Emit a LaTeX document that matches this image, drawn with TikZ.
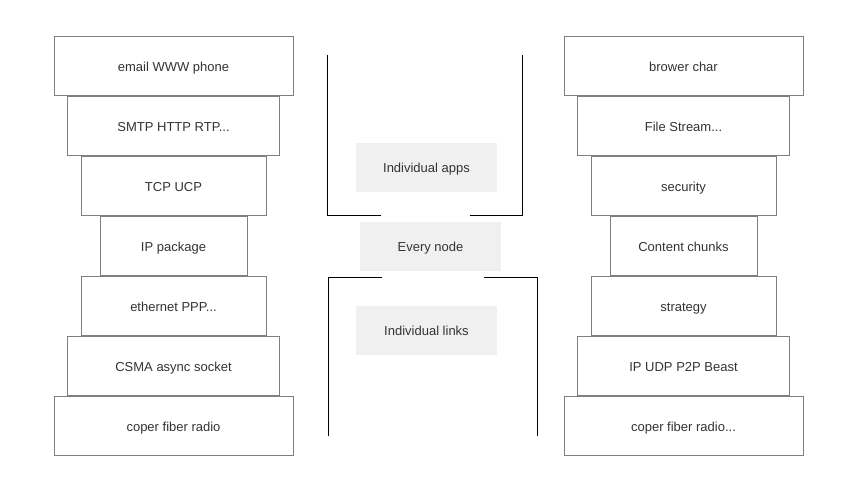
\documentclass[tikz,border=0pt]{standalone}
\usepackage{fontspec}
\setmainfont{Liberation Sans}
\usetikzlibrary{positioning}
\definecolor{layergray}{HTML}{7F7F7F}
\definecolor{taggray}{HTML}{F0F0F0}
\definecolor{inkgray}{HTML}{333333}
\tikzset{
		layer/.style={draw=layergray, fill=white, line width=0.9pt, minimum height=59pt, inner sep=0pt, text height=10pt, text depth=0pt, text=inkgray, font=\fontsize{13}{15}\selectfont},
		tag/.style={fill=taggray, minimum width=141pt, minimum height=49pt, inner sep=0pt, text height=10pt, text depth=0pt, text=inkgray, font=\fontsize{13}{15}\selectfont},
		wall/.style={draw=black, line width=1pt}
	}

\begin{document}
\begin{tikzpicture}[x=1pt, y=-1pt] % 1 unit = 1 pixel of the sketch, y grows downwards
		\useasboundingbox (0,0) rectangle (867,498);
		% left stack
		\foreach[count=\i] \w/\t in {239/{email WWW phone}, 212/{SMTP HTTP RTP...}, 185/{TCP UCP}, 147/{IP package}, 185/{ethernet PPP...}, 212/{CSMA async socket}, 239/{coper fiber radio}}{
			\node[layer, minimum width=\w] (L\i) at (173.5, 6+60*\i) {\t};
		}
		% right stack
		\foreach[count=\i] \w/\t in {239/{brower char}, 212/{File Stream...}, 185/{security}, 147/{Content chunks}, 185/{strategy}, 212/{IP UDP P2P Beast}, 239/{coper fiber radio...}}{
			\node[layer, minimum width=\w] (R\i) at (683.5, 6+60*\i) {\t};
		}
		% middle
		\node[tag] (apps) at (426.5,167.5) {Individual apps};
		\node[tag] (every) at (430.5,246.5) {Every node};
		\node[tag] (links) at (426.5,330.5) {Individual links};
		% brackets
		\draw[wall] (327,55) -- (327,215) -- (381,215) (470,215) -- (522,215) -- (522,55);
		\draw[wall] (328,436) -- (328,277) -- (382,277) (484,277) -- (537,277) -- (537,436);
	\end{tikzpicture}
\end{document}
